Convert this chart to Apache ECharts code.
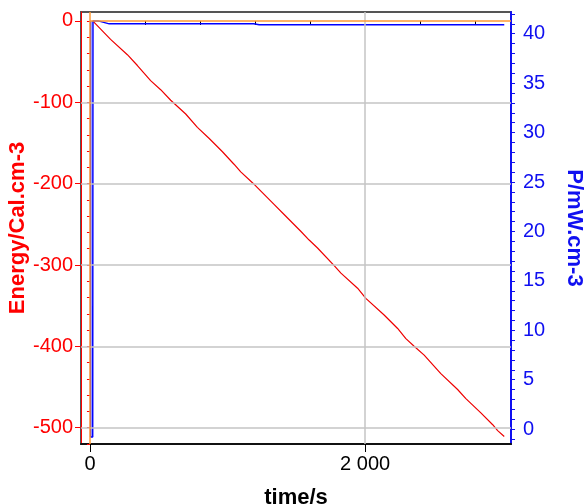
<!DOCTYPE html>
<html>
<head>
<meta charset="utf-8">
<script src="https://cdn.jsdelivr.net/npm/echarts@6/dist/echarts.min.js"></script>
<style>
  html, body { margin: 0; padding: 0; background: #fff; }
  #chart { width: 584px; height: 504px; }
</style>
</head>
<body>
<div id="chart"></div>
<script>
// ---- data ----
// energy curve (time in s, energy in Cal.cm-3)
const energyTime = [20, 150, 272, 345, 441, 514, 587, 696, 781, 865, 963, 1047, 1096, 1181, 1338, 1411,
  1532, 1593, 1654, 1775, 1824, 1945, 2005, 2138, 2236, 2296, 2356, 2429, 2550, 2672, 2732, 2841, 2927, 2963, 3011];
const energyValue = [0, -22.6, -41.5, -54.8, -73.3, -84.5, -97.5, -114.4, -130.8, -144.2, -160.8, -176.1, -185.5, -198.8, -225.5, -237.9,
  -258.5, -269.3, -279.1, -300.7, -310.0, -328.5, -341.0, -361.4, -378.0, -390.5, -399.9, -410.8, -433.5, -453.0, -464.3, -481.8, -496.3, -503.5, -510.7];

// power curve (time in s, P in mW.cm-3)
const powerTime = [5, 5, 20, 22, 60, 140, 1190, 1230, 3011];
const powerValue = [41.3, -0.8, -0.8, 41.3, 41.3, 41.0, 41.0, 40.9, 40.9];

// tick values
const timeLabels = [0, 2000];
const timeMinorTicks = [400, 800, 1200, 1600, 2400, 2800];
const energyLabels = [0, -100, -200, -300, -400, -500];
const energyMinorTicks = [];
for (let v = 0; v >= -520; v -= 20) energyMinorTicks.push(v);
const powerLabels = [0, 5, 10, 15, 20, 25, 30, 35, 40];
const powerTicks = [];
for (let v = -1; v <= 42; v += 1) powerTicks.push(v);

const xMin = -65, xMax = 3060;
const eMin = -520, eMax = 11;
const pMin = -1.5, pMax = 42.2;

const RED = '#ff0000';
const BLUE = '#1010f0';
const FONT = 'Liberation Sans, Arial, sans-serif';

function zip(a, b) { return a.map((v, i) => [v, b[i]]); }
function spaced(v) { return String(v).replace(/\B(?=(\d{3})+(?!\d))/g, ' '); }

const chart = echarts.init(document.getElementById('chart'));

chart.setOption({
  animation: false,
  grid: {
    left: 81, right: 73, top: 12, bottom: 60,
    containLabel: false, outerBoundsMode: 'none',
    show: true, borderColor: '#555', borderWidth: 2, backgroundColor: 'transparent'
  },
  xAxis: [
    {
      type: 'value', min: xMin, max: xMax, position: 'bottom',
      name: 'time/s', nameLocation: 'middle', nameGap: 43, nameMoveOverlap: false,
      nameTextStyle: { fontFamily: FONT, fontSize: 22, fontWeight: 'bold', color: '#000' },
      axisLine: { show: true, onZero: false, lineStyle: { color: '#111', width: 2 } },
      axisTick: { show: true, length: 8, customValues: timeLabels, lineStyle: { color: '#000' } },
      axisLabel: { customValues: timeLabels, margin: 10, fontFamily: FONT, fontSize: 20, color: '#000', formatter: spaced },
      splitLine: { show: false }
    },
    {
      type: 'value', min: xMin, max: xMax, position: 'bottom',
      axisLine: { show: false },
      axisTick: { show: true, length: 4, customValues: timeMinorTicks, lineStyle: { color: '#000' } },
      axisLabel: { show: false },
      splitLine: { show: false }
    }
  ],
  yAxis: [
    {
      type: 'value', min: eMin, max: eMax, position: 'left',
      name: 'Energy/Cal.cm-3', nameLocation: 'middle', nameGap: 52, nameMoveOverlap: false,
      nameTextStyle: { fontFamily: FONT, fontSize: 22, fontWeight: 'bold', color: RED },
      axisLine: { show: true, onZero: false, lineStyle: { color: RED, width: 1 } },
      axisTick: { show: true, length: 6, customValues: energyLabels, lineStyle: { color: RED } },
      axisLabel: { customValues: energyLabels, margin: 8, fontFamily: FONT, fontSize: 20, color: RED },
      splitLine: { show: false }
    },
    {
      type: 'value', min: eMin, max: eMax, position: 'left',
      axisLine: { show: false },
      axisTick: { show: true, length: 3, customValues: energyMinorTicks, lineStyle: { color: RED } },
      axisLabel: { show: false },
      splitLine: { show: false }
    },
    {
      type: 'value', min: pMin, max: pMax, position: 'right',
      name: 'P/mW.cm-3', nameLocation: 'middle', nameGap: 52, nameRotate: -90, nameMoveOverlap: false,
      nameTextStyle: { fontFamily: FONT, fontSize: 22, fontWeight: 'bold', color: BLUE },
      axisLine: { show: true, onZero: false, lineStyle: { color: BLUE, width: 2 } },
      axisTick: { show: true, length: 4, customValues: powerTicks, lineStyle: { color: BLUE } },
      axisLabel: { customValues: powerLabels, margin: 12, fontFamily: FONT, fontSize: 20, color: BLUE },
      splitLine: { show: false }
    }
  ],
  series: [
    {
      // grid lines
      type: 'line', xAxisIndex: 0, yAxisIndex: 0, data: [], z: 1, silent: true,
      markLine: {
        silent: true, symbol: 'none', label: { show: false }, animation: false,
        lineStyle: { color: '#c4c4c4', width: 1.5, type: 'solid' },
        data: energyLabels.filter(v => v !== 0).map(v => ({ yAxis: v }))
          .concat(timeLabels.filter(v => v !== 0).map(v => ({ xAxis: v })))
      }
    },
    {
      // orange zero markers
      type: 'line', xAxisIndex: 0, yAxisIndex: 0, data: [], z: 2, silent: true,
      markLine: {
        silent: true, symbol: 'none', label: { show: false }, animation: false,
        lineStyle: { color: '#ff9933', width: 1.5, type: 'solid' },
        data: [
          { xAxis: 0 },
          [{ coord: [0, 0] }, { coord: [xMax, 0] }]
        ]
      }
    },
    {
      name: 'Energy', type: 'line', xAxisIndex: 0, yAxisIndex: 0, z: 3,
      data: zip(energyTime, energyValue),
      showSymbol: false, symbol: 'none',
      lineStyle: { color: '#ee0000', width: 1.2 }
    },
    {
      name: 'P', type: 'line', xAxisIndex: 0, yAxisIndex: 2, z: 4,
      data: zip(powerTime, powerValue),
      showSymbol: false, symbol: 'none',
      lineStyle: { color: '#0000ff', width: 1.5 }
    }
  ]
});

window.onresize = function () {
  chart.resize();
};
</script>
</body>
</html>
